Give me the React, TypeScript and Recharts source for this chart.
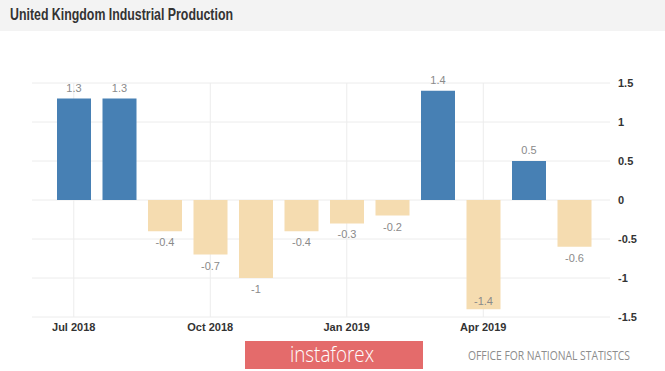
import React from "react";
import { BarChart, Bar, XAxis, YAxis, CartesianGrid, Cell, LabelList } from "recharts";

const months = [
  "Jul 2018", "Aug 2018", "Sep 2018", "Oct 2018", "Nov 2018", "Dec 2018",
  "Jan 2019", "Feb 2019", "Mar 2019", "Apr 2019", "May 2019", "Jun 2019",
];
const values = [1.3, 1.3, -0.4, -0.7, -1, -0.4, -0.3, -0.2, 1.4, -1.4, 0.5, -0.6];
const yTicks = [1.5, 1, 0.5, 0, -0.5, -1, -1.5];

const title = "United Kingdom Industrial Production";
const source = "OFFICE FOR NATIONAL STATISTCS";
const brand = "instaforex";

const data = months.map((m, i) => ({ month: m, value: values[i] }));

const POS = "#4780b4";
const NEG = "#f5dcb0";
const FONT = "'Liberation Sans', Arial, sans-serif";

const PLOT_BOTTOM = 317;

const BarLabel = (props: any) => {
  const { x, y, width, height, value } = props;
  const top = Math.min(y, y + height);
  const bottom = Math.max(y, y + height);
  const cx = x + width / 2;
  let ty: number;
  if (value >= 0) {
    ty = top - 7;
  } else if (bottom + 15 > PLOT_BOTTOM - 2) {
    ty = bottom - 4;
  } else {
    ty = bottom + 15;
  }
  return (
    <text x={cx} y={ty} textAnchor="middle" fill="#8a8a8a" fontSize={11} fontFamily={FONT}>
      {String(value)}
    </text>
  );
};

const XTick = (props: any) => {
  const { x, payload } = props;
  return (
    <text x={x} y={PLOT_BOTTOM + 14} textAnchor="middle" fill="#333" fontSize={11} fontWeight="bold" fontFamily={FONT}>
      {payload.value}
    </text>
  );
};

export default function App() {
  return (
    <div style={{ position: "absolute", left: 0, top: 0, width: 665, height: 371, background: "#ffffff", overflow: "hidden" }}>
      <svg width={665} height={371} style={{ position: "absolute", left: 0, top: 0 }}>
        <rect x={0} y={0} width={665} height={31} fill="#f3f3f3" />
        <text x={10} y={20} fill="#333" fontSize={17} fontWeight="bold" fontFamily={FONT} textLength={223} lengthAdjust="spacingAndGlyphs">
          {title}
        </text>
        <rect x={245} y={341} width={178} height={28} fill="#e46b6b" />
        <text x={290} y={362} fill="#ffffff" fontSize={22} fontFamily="'Open Sans', sans-serif" fontWeight={300} textLength={84} lengthAdjust="spacingAndGlyphs">
          {brand}
        </text>
        <text x={468} y={360} fill="#8c8c8c" fontSize={12.5} fontFamily="'Open Sans', sans-serif" textLength={162} lengthAdjust="spacingAndGlyphs">
          {source}
        </text>
      </svg>
      <div style={{ position: "absolute", left: 0, top: 0 }}>
        <BarChart
          width={665}
          height={371}
          data={data}
          margin={{ top: 83, right: 0, bottom: 34, left: 32 }}
          barSize={34}
        >
          <CartesianGrid stroke="#ececec" strokeWidth={1} syncWithTicks={true} />
          <XAxis
            dataKey="month"
            interval={2}
            axisLine={false}
            tickLine={false}
            height={20}
            padding={{ left: 19, right: 13 }}
            tick={<XTick />}
          />
          <YAxis
            orientation="right"
            width={55}
            domain={[-1.5, 1.5]}
            ticks={yTicks}
            axisLine={false}
            tickLine={false}
            interval={0}
            tick={{ fill: "#333", fontSize: 11, fontWeight: "bold", fontFamily: FONT }}
          />
          <Bar dataKey="value" isAnimationActive={false}>
            {data.map((d, i) => (
              <Cell key={i} fill={d.value >= 0 ? POS : NEG} />
            ))}
            <LabelList dataKey="value" content={<BarLabel />} />
          </Bar>
        </BarChart>
      </div>
    </div>
  );
}
